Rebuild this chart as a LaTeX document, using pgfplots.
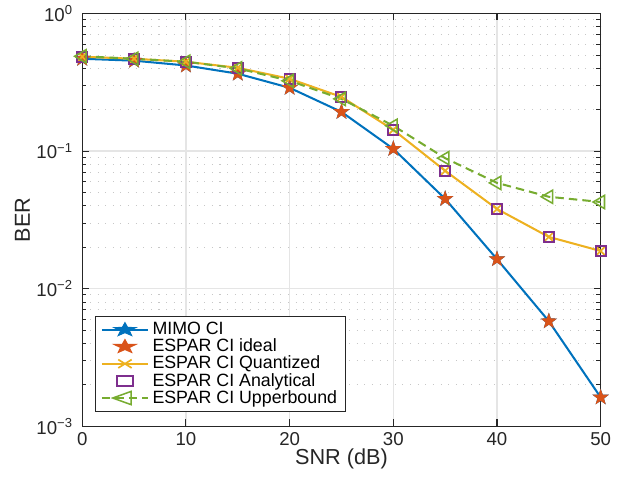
\documentclass[border=0pt]{standalone}
\usepackage{fontspec}
\setmainfont{Liberation Sans}
\usepackage{pgfplots}
\pgfplotsset{compat=1.18}
\definecolor{mblue}{HTML}{0072BD}
\definecolor{morange}{HTML}{D95319}
\definecolor{myellow}{HTML}{EDB120}
\definecolor{mpurple}{HTML}{7E2F8E}
\definecolor{mgreen}{HTML}{77AC30}
\definecolor{axgray}{HTML}{262626}

% five-pointed star, like MATLAB's pentagram marker
\pgfdeclareplotmark{pentagram}{%
  \pgfpathmoveto{\pgfpointpolar{90}{\pgfplotmarksize}}%
  \pgfpathlineto{\pgfpointpolar{126}{0.4\pgfplotmarksize}}%
  \pgfpathlineto{\pgfpointpolar{162}{\pgfplotmarksize}}%
  \pgfpathlineto{\pgfpointpolar{198}{0.4\pgfplotmarksize}}%
  \pgfpathlineto{\pgfpointpolar{234}{\pgfplotmarksize}}%
  \pgfpathlineto{\pgfpointpolar{270}{0.4\pgfplotmarksize}}%
  \pgfpathlineto{\pgfpointpolar{306}{\pgfplotmarksize}}%
  \pgfpathlineto{\pgfpointpolar{342}{0.4\pgfplotmarksize}}%
  \pgfpathlineto{\pgfpointpolar{18}{\pgfplotmarksize}}%
  \pgfpathlineto{\pgfpointpolar{54}{0.4\pgfplotmarksize}}%
  \pgfpathclose
  \pgfusepathqfillstroke}

\begin{document}
\begin{tikzpicture}
\begin{axis}[
    scale only axis,
    width=306pt, height=243.5pt,
    ymode=log,
    xmin=0, xmax=50, ymin=1e-3, ymax=1,
    xtick={0,10,...,50},
    minor x tick num=0,
    ytick={1e-3,1e-2,1e-1,1},
    yticklabels={10\textsuperscript{−3},10\textsuperscript{−2},10\textsuperscript{−1},10\textsuperscript{0}},
    /pgf/number format/assume math mode=true,
    tick label style={font=\fontsize{11}{13}\selectfont, text=axgray},
    yticklabel style={xshift=-2pt},
    label style={font=\fontsize{12.8}{15}\selectfont, text=axgray},
    xlabel={SNR (dB)},
    ylabel={BER},
    xlabel style={yshift=5pt},
    ylabel style={yshift=-3pt},
    xmajorgrids, ymajorgrids, yminorgrids,
    major grid style={draw=black!10, line width=0.8pt},
    minor grid style={draw=black!22, line width=0.6pt, dash pattern=on 0.6pt off 3.9pt},
    axis line style={draw=axgray, line width=0.6pt},
    tick style={draw=axgray, line width=0.6pt},
    tick align=inside,
    major tick length=4pt, minor tick length=2.5pt,
    legend cell align=left,
    legend image post style={xscale=1.6},
    legend style={at={(0.025,0.034)}, anchor=south west,
        draw=axgray, line width=0.6pt, inner xsep=3pt, inner ysep=1.5pt, row sep=-3pt,
        font=\fontsize{10.5}{12}\selectfont},
]
\addplot[color=mblue, line width=1.2pt, mark=pentagram, mark size=4.2pt,
    mark options={fill=mblue, line width=0.6pt}] coordinates {
(0,0.47) (5,0.455) (10,0.42) (15,0.366) (20,0.289) (25,0.193)
(30,0.104) (35,0.045) (40,0.0164) (45,0.0058) (50,0.00162)};
\addlegendentry{MIMO CI}
\addplot[only marks, color=morange, mark=pentagram, mark size=4.2pt,
    mark options={fill=morange, line width=0.6pt}] coordinates {
(0,0.47) (5,0.455) (10,0.42) (15,0.366) (20,0.289) (25,0.193)
(30,0.104) (35,0.045) (40,0.0164) (45,0.0058) (50,0.00162)};
\addlegendentry{ESPAR CI ideal}
\addplot[color=myellow, line width=1.2pt, mark=x, mark size=3.5pt,
    mark options={line width=1pt}] coordinates {
(0,0.486) (5,0.47) (10,0.447) (15,0.404) (20,0.336) (25,0.248)
(30,0.143) (35,0.072) (40,0.038) (45,0.0238) (50,0.0188)};
\addlegendentry{ESPAR CI Quantized}
\addplot[only marks, color=mpurple, mark=square, mark size=3pt,
    mark options={line width=1.1pt}] coordinates {
(0,0.486) (5,0.47) (10,0.447) (15,0.404) (20,0.336) (25,0.248)
(30,0.143) (35,0.072) (40,0.038) (45,0.0238) (50,0.0188)};
\addlegendentry{ESPAR CI Analytical}
\addplot[color=mgreen, line width=1.2pt, dash pattern=on 5pt off 3pt,
    mark=triangle, mark size=4.5pt,
    mark options={solid, rotate=90, line width=0.9pt}] coordinates {
(0,0.49) (5,0.47) (10,0.447) (15,0.40) (20,0.325) (25,0.24)
(30,0.153) (35,0.089) (40,0.0588) (45,0.0466) (50,0.0427)};
\addlegendentry{ESPAR CI Upperbound}
\end{axis}
% white margin as in the reference figure
\path (current axis.outer south west) ++(-5.5pt,-1.5pt)
      (current axis.outer north east) ++(5.5pt,0pt);
\end{tikzpicture}
\end{document}
